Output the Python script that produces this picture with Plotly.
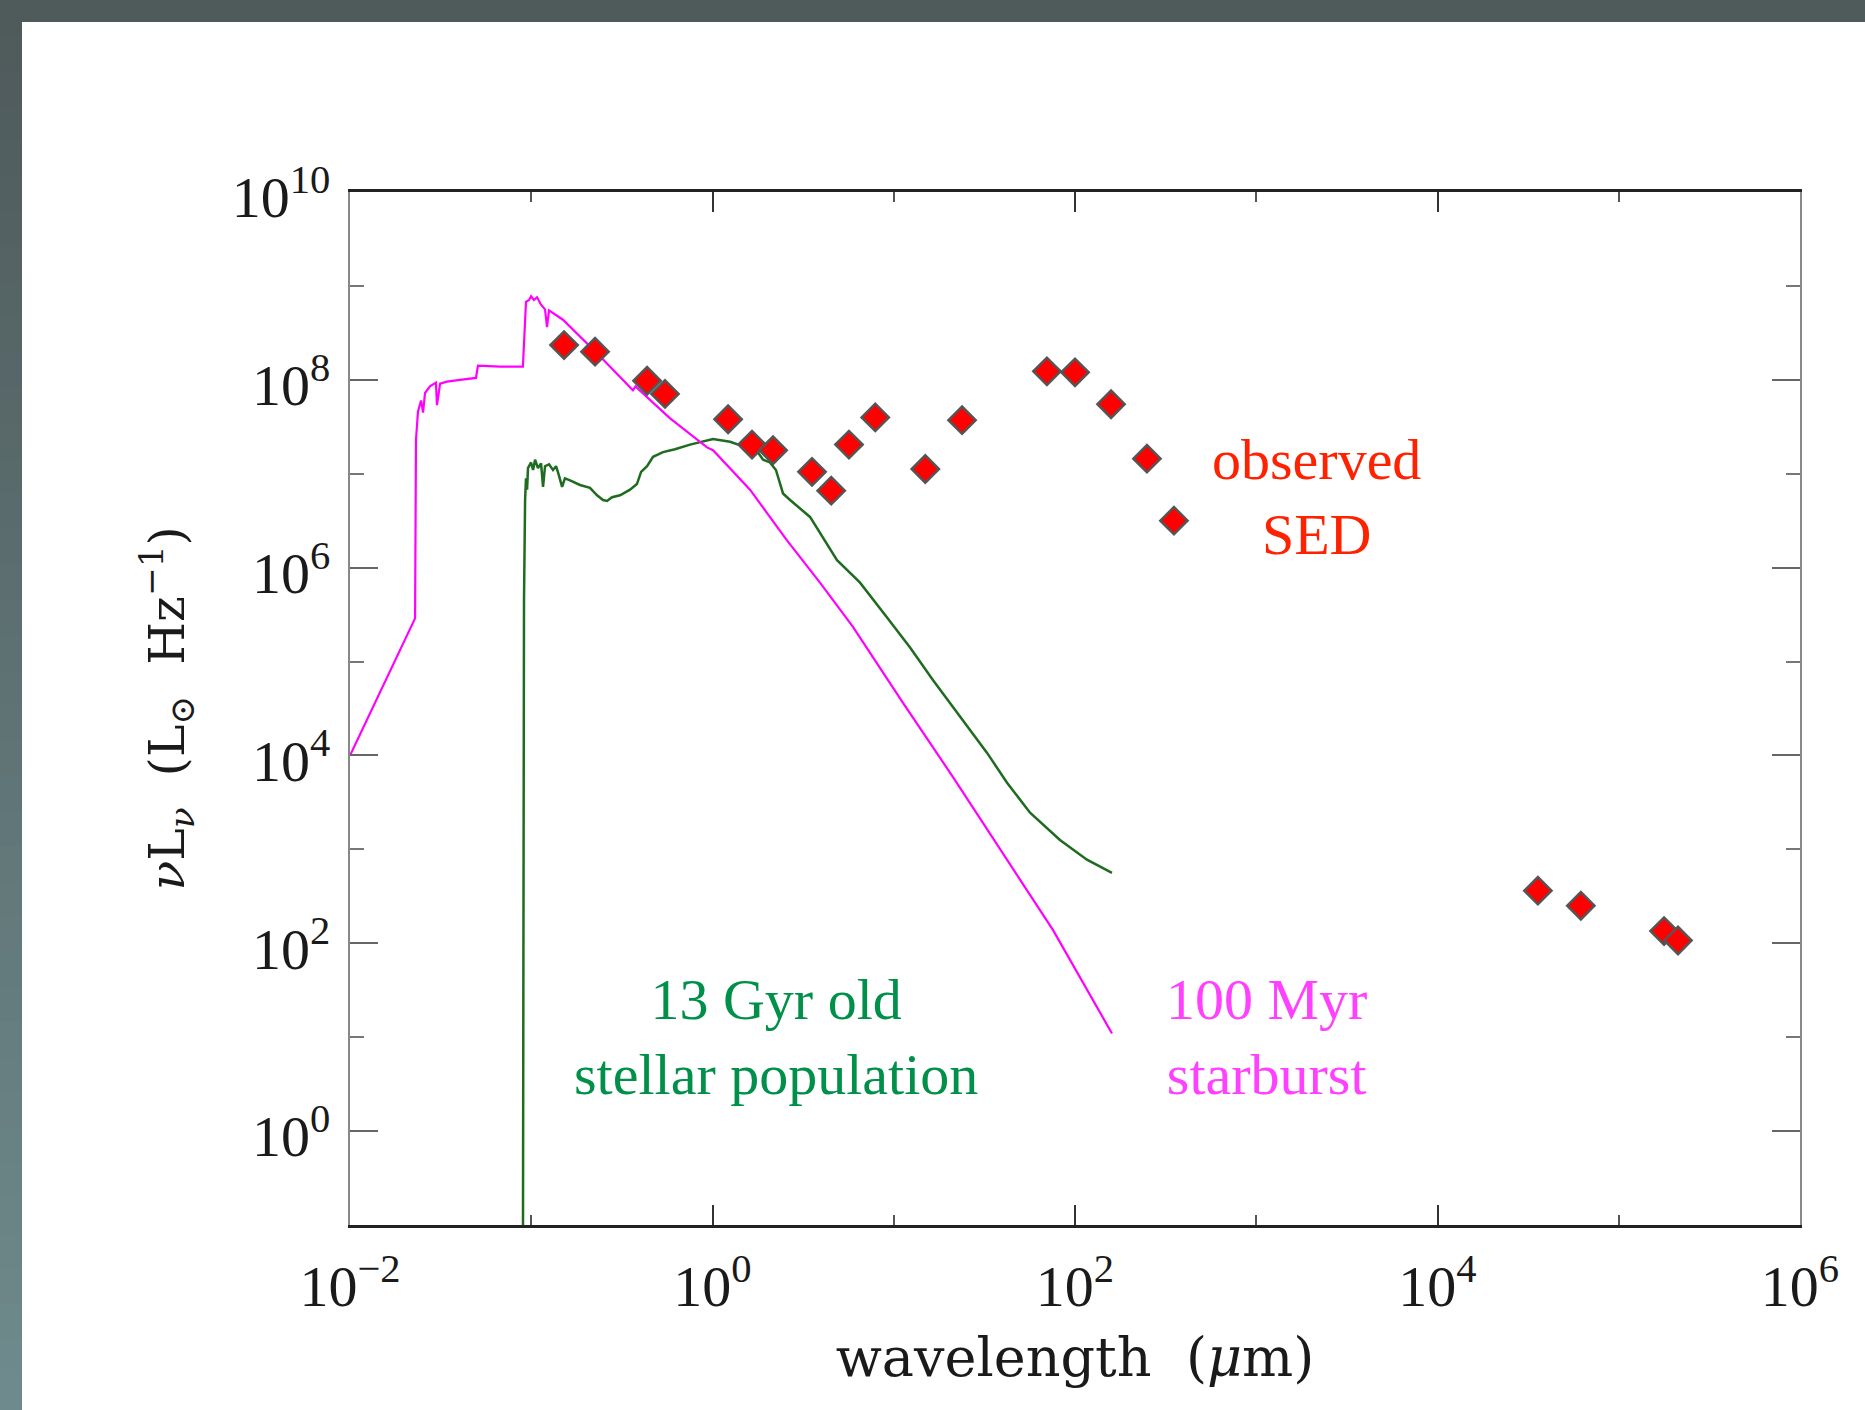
import math
import plotly.graph_objects as go

# ---------------- data ----------------
# 100 Myr starburst model SED: log10 wavelength (micron), log10 nuL_nu (L_sun Hz^-1)
sb_logwl = [-2.0, -1.641, -1.636, -1.625, -1.608, -1.597, -1.586, -1.559, -1.526, -1.520,
            -1.503, -1.465, -1.393, -1.305, -1.294, -1.172, -1.046, -1.029, -1.012, -1.001,
            -0.985, -0.968, -0.946, -0.924, -0.913, -0.902, -0.825, -0.621, -0.439, -0.425,
            -0.234, -0.030, 0.003, 0.207, 0.411, 0.593, 0.775, 1.051, 1.327, 1.603,
            1.879, 2.204]
sb_loglum = [4.00, 5.46, 7.36, 7.66, 7.78, 7.65, 7.86, 7.93, 7.97, 7.73,
             7.96, 7.98, 8.00, 8.02, 8.15, 8.14, 8.14, 8.83, 8.85, 8.89,
             8.85, 8.88, 8.80, 8.75, 8.56, 8.74, 8.64, 8.25, 7.89, 7.93,
             7.59, 7.28, 7.25, 6.83, 6.29, 5.84, 5.37, 4.56, 3.77, 2.96,
             2.14, 1.04]

# 13 Gyr old stellar population model SED
old_logwl = [-1.046, -1.040, -1.034, -1.029, -1.023, -1.018, -1.001, -0.990, -0.979, -0.963,
             -0.946, -0.935, -0.924, -0.902, -0.880, -0.863, -0.847, -0.830, -0.814, -0.786,
             -0.731, -0.676, -0.637, -0.604, -0.582, -0.554, -0.510, -0.455, -0.417, -0.394,
             -0.361, -0.328, -0.273, -0.207, -0.124, -0.052, 0.003, 0.097, 0.190, 0.246,
             0.279, 0.317, 0.350, 0.389, 0.428, 0.538, 0.687, 0.814, 0.963, 1.090,
             1.217, 1.366, 1.514, 1.625, 1.752, 1.917, 2.066, 2.204]
old_loglum = [-1.5, 5.65, 6.72, 6.95, 6.83, 7.06, 7.12, 7.04, 7.15, 7.06,
              7.11, 6.86, 7.08, 7.10, 7.04, 7.08, 6.98, 6.86, 6.95, 6.93,
              6.88, 6.85, 6.77, 6.72, 6.71, 6.75, 6.77, 6.83, 6.89, 7.02,
              7.08, 7.18, 7.23, 7.26, 7.31, 7.34, 7.37, 7.34, 7.28, 7.24,
              7.15, 7.12, 7.04, 6.79, 6.72, 6.54, 6.08, 5.84, 5.47, 5.15,
              4.80, 4.41, 4.03, 3.71, 3.39, 3.10, 2.89, 2.75]

# observed SED points
obs_logwl = [-0.819, -0.648, -0.361, -0.262, 0.086, 0.218, 0.334, 0.549, 0.655, 0.753,
             0.898, 1.174, 1.377, 1.845, 2.000, 2.199, 2.397, 2.546, 4.554, 4.791,
             5.250, 5.327]
obs_loglum = [8.37, 8.30, 7.99, 7.85, 7.58, 7.31, 7.25, 7.02, 6.82, 7.31,
              7.60, 7.05, 7.57, 8.09, 8.08, 7.74, 7.16, 6.50, 2.56, 2.40,
              2.13, 2.03]

x_major = [-2, 0, 2, 4, 6]
x_minor = [-1, 1, 3, 5]
y_major = [0, 2, 4, 6, 8, 10]
y_minor = [1, 3, 5, 7, 9]

sb_wl = [10 ** v for v in sb_logwl]
sb_lum = [10 ** v for v in sb_loglum]
old_wl = [10 ** v for v in old_logwl]
old_lum = [10 ** v for v in old_loglum]
obs_wl = [10 ** v for v in obs_logwl]
obs_lum = [10 ** v for v in obs_loglum]

def pow_label(e):
    s = str(e) if e >= 0 else "\u2212" + str(-e)
    return "10<sup>" + s + "</sup>"

# ---------------- figure ----------------
W, H = 1865, 1410
L, R, T, B = 350, 65, 192, 185
PW, PH = W - L - R, H - T - B

fig = go.Figure()
fig.add_trace(go.Scatter(x=old_wl, y=old_lum, mode="lines",
                         line=dict(color="#1f6b1f", width=2.5), hoverinfo="skip"))
fig.add_trace(go.Scatter(x=sb_wl, y=sb_lum, mode="lines",
                         line=dict(color="#ff00ff", width=2.2), hoverinfo="skip"))
fig.add_trace(go.Scatter(x=obs_wl, y=obs_lum, mode="markers",
                         marker=dict(symbol="diamond", size=21, color="#ff0000",
                                     line=dict(color="#555555", width=2.5))))

tickfont = dict(family="Liberation Serif", size=58, color="#1a1a1a")

fig.update_xaxes(type="log", range=[-2, 6],
                 tickvals=[10 ** e for e in x_major], ticktext=[pow_label(e) for e in x_major],
                 ticks="inside", ticklen=20, tickwidth=1.5, tickcolor="#333333",
                 minor=dict(tickvals=[10 ** e for e in x_minor], ticks="inside", ticklen=10,
                            tickwidth=1.5, tickcolor="#555555", showgrid=False),
                 showline=True, linecolor="#222222", linewidth=2.5, mirror="allticks",
                 showgrid=False, zeroline=False, tickfont=tickfont, ticklabelstandoff=9,
                 title=dict(text="wavelength\u00a0\u00a0(<i>\u03bc</i>m)",
                            font=dict(family="DejaVu Serif", size=54, color="#1a1a1a"),
                            standoff=20))
fig.update_yaxes(type="log", range=[-1, 10],
                 tickvals=[10 ** e for e in y_major], ticktext=[pow_label(e) for e in y_major],
                 ticks="inside", ticklen=28, tickwidth=1.5, tickcolor="#666666",
                 minor=dict(tickvals=[10 ** e for e in y_minor], ticks="inside", ticklen=14,
                            tickwidth=1.5, tickcolor="#777777", showgrid=False),
                 showline=True, linecolor="#888888", linewidth=2, mirror="allticks",
                 showgrid=False, zeroline=False, tickfont=tickfont, ticklabelstandoff=6,
                 ticklabelshift=5,
                 title=dict(text="<i>\u03bd</i>L<sub><i>\u03bd</i></sub>\u00a0\u00a0(L<sub>\u2299</sub>\u00a0\u00a0Hz<sup>\u22121</sup>)",
                            font=dict(family="DejaVu Serif", size=49, color="#1a1a1a"),
                            standoff=32))

annfont = "Liberation Serif"
fig.add_annotation(x=3.335, y=6.75, xref="x", yref="y", text="observed<br>SED",
                   showarrow=False, font=dict(family=annfont, size=58, color="#ff2200"))
fig.add_annotation(x=0.35, y=1.0, xref="x", yref="y", text="13 Gyr old<br>stellar population",
                   showarrow=False, font=dict(family=annfont, size=58, color="#00904a"))
fig.add_annotation(x=3.054, y=1.0, xref="x", yref="y", text="100 Myr<br>starburst",
                   showarrow=False, font=dict(family=annfont, size=58, color="#ff40ff"))

# slide frame: dark band on top, gradient band on the left
def px_to_paper_x(px):
    return (px - L) / PW

def px_to_paper_y(py):
    return (H - B - py) / PH

shapes = []
shapes.append(dict(type="rect", xref="paper", yref="paper",
                   x0=px_to_paper_x(0), x1=px_to_paper_x(W), y0=px_to_paper_y(22), y1=px_to_paper_y(0),
                   fillcolor="#4f5a5b", line=dict(width=0), layer="below"))
c0 = (0x4f, 0x5a, 0x5b)
c1 = (0x6e, 0x8a, 0x8c)
n = 40
for i in range(n):
    f = i / (n - 1)
    col = "rgb(%d,%d,%d)" % tuple(round(a + (b - a) * f) for a, b in zip(c0, c1))
    y0p = i * H / n
    y1p = (i + 1) * H / n + 1
    shapes.append(dict(type="rect", xref="paper", yref="paper",
                       x0=px_to_paper_x(0), x1=px_to_paper_x(22),
                       y0=px_to_paper_y(y1p), y1=px_to_paper_y(y0p),
                       fillcolor=col, line=dict(width=0), layer="below"))
fig.update_layout(shapes=shapes)

fig.update_layout(width=W, height=H, autosize=False,
                  margin=dict(l=L, r=R, t=T, b=B, pad=0),
                  paper_bgcolor="white", plot_bgcolor="white",
                  showlegend=False)

fig.write_html("out.html", config={"displayModeBar": False},
               post_script="document.body.style.margin='0';document.body.style.overflow='hidden';")
